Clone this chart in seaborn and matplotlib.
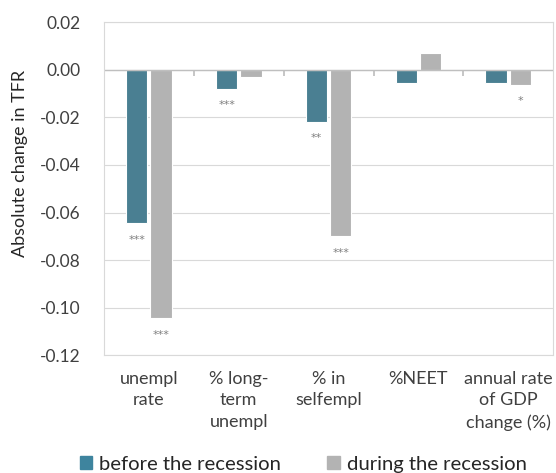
import pandas as pd
import numpy as np
import seaborn as sns
import matplotlib.pyplot as plt
from matplotlib.ticker import FormatStrFormatter

# ======================================================
# Data
# ======================================================

categories = ["unempl\nrate", "% long-\nterm\nunempl", "% in\nselfempl",
              "%NEET", "annual rate\nof GDP\nchange (%)"]
periods = ["before the recession", "during the recession"]

before = [-0.0644, -0.0080, -0.0218, -0.0055, -0.0055]
during = [-0.1044, -0.0030, -0.0699, 0.0070, -0.0063]

stars_before = ["***", "***", "**", "", ""]
stars_during = ["***", "", "***", "", "*"]

df = pd.DataFrame({
    "category": categories * 2,
    "period": [periods[0]] * 5 + [periods[1]] * 5,
    "value": before + during,
})

# ======================================================
# Plot
# ======================================================

sns.set_theme(style="white")
plt.rcParams["font.family"] = ["Lato", "DejaVu Sans"]

fig, ax = plt.subplots(figsize=(5.56, 4.73), dpi=100)

sns.barplot(
    data=df,
    x="category",
    y="value",
    hue="period",
    palette=["#3e849e", "#b3b3b3"],
    width=0.54,
    gap=0.12,
    edgecolor="white",
    linewidth=0.8,
    legend=False,
    ax=ax,
)

# significance stars below the bars
for cont, stars in zip(ax.containers, [stars_before, stars_during]):
    for bar, s in zip(cont, stars):
        if not s:
            continue
        xc = bar.get_x() + bar.get_width() / 2
        yb = min(bar.get_y(), bar.get_y() + bar.get_height())
        ax.annotate(s, (xc, yb), xytext=(0, -12), textcoords="offset points",
                    ha="center", va="center", fontsize=8, color="#7f7f7f",
                    family="DejaVu Sans")

ax.set_ylim(-0.12, 0.02)
ax.set_yticks(np.arange(-0.12, 0.021, 0.02))
ax.yaxis.set_major_formatter(FormatStrFormatter("%.2f"))
ax.set_xlim(-0.5, 4.5)
ax.grid(axis="y", color="#d9d9d9", linewidth=0.8)
ax.set_axisbelow(True)
ax.axhline(0, color="#bfbfbf", linewidth=1, zorder=1)

for sp in ax.spines.values():
    sp.set_color("#d9d9d9")
    sp.set_linewidth(0.8)

ax.tick_params(axis="y", length=0, labelsize=12.5, colors="#404040", pad=17)
ax.tick_params(axis="x", length=0, labelsize=13, colors="#404040", pad=11)
for lab in ax.get_xticklabels():
    lab.set_linespacing(1.45)
ax.set_xlabel("")
ax.set_ylabel("Absolute change in TFR", fontsize=13, color="#262626")
ax.yaxis.set_label_coords(-0.17, 0.575)

# small tick marks on the zero line between categories
zero_pos = (0 - (-0.12)) / 0.14
sec = ax.secondary_xaxis(zero_pos)
sec.set_xticks([0.5, 1.5, 2.5, 3.5])
sec.tick_params(length=4, direction="out", color="#bfbfbf", labelbottom=False,
                labeltop=False, bottom=True, top=False)
sec.spines["bottom"].set_visible(False)
sec.spines["top"].set_visible(False)

# legend with square markers
handles = [plt.Rectangle((0, 0), 1, 1, color=c) for c in ["#3e849e", "#b3b3b3"]]
fig.legend(
    handles,
    periods,
    loc="center",
    bbox_to_anchor=(0.545, 0.018),
    ncol=2,
    frameon=False,
    fontsize=14.6,
    handlelength=0.6,
    handleheight=0.6,
    handletextpad=0.35,
    columnspacing=2.3,
    labelcolor="#262626",
)

fig.subplots_adjust(left=0.187, right=0.995, top=0.953, bottom=0.249)

plt.savefig("out.png", dpi=100)
